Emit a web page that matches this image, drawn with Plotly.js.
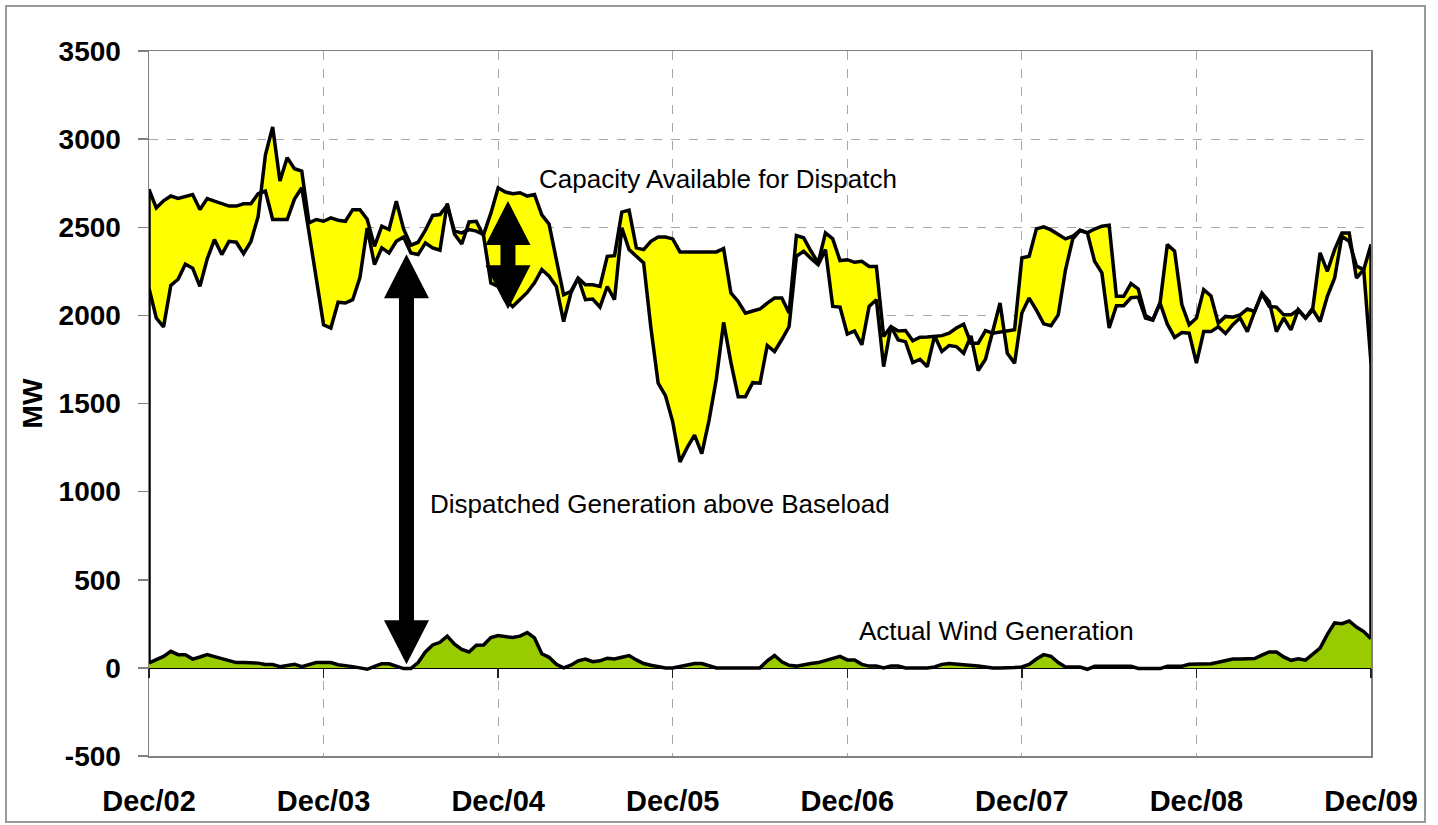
<!DOCTYPE html>
<html><head><meta charset="utf-8">
<script src="https://cdn.plot.ly/plotly-3.0.1.min.js"></script>
<style>html,body{margin:0;padding:0;background:#fff}#chart{width:1438px;height:825px}</style>
</head><body><div id="chart"></div>
<script>
// Semi-monthly observations, Dec 2002 .. Dec 2009 (169 points)
const yearLabels = ["Dec/02","Dec/03","Dec/04","Dec/05","Dec/06","Dec/07","Dec/08","Dec/09"];
const yearTickIndex = [0,24,48,72,96,120,144,168];
const yTicks = [-500,0,500,1000,1500,2000,2500,3000,3500];
const yTickLabels = ["-500","0","500","1000","1500","2000","2500","3000","3500"];

// first boundary line of the yellow band (MW)
const lineA = [2715,2610,2650,2677,2663,2673,2686,2601,2663,2648,
2633,2620,2620,2633,2633,2690,2705,2544,2544,2544,
2660,2724,2470,2200,1946,1928,2075,2070,2089,2215,
2495,2288,2383,2354,2420,2445,2354,2345,2411,2383,
2370,2635,2460,2405,2530,2534,2450,2184,2164,2085,
2050,2090,2130,2185,2260,2222,2164,1965,2127,2212,
2089,2093,2047,2164,2089,2497,2373,2335,2298,1930,
1615,1545,1396,1169,1251,1321,1215,1406,1640,1960,
1733,1539,1539,1618,1615,1829,1795,1863,1937,2335,
2364,2323,2288,2373,2051,2047,1894,1912,1833,2051,
2089,1709,1937,1861,1851,1732,1751,1709,1884,1795,
1829,1823,1785,1884,1687,1751,1918,2070,1785,1729,
2013,2098,2030,1952,1941,2003,2259,2434,2483,2468,
2307,2241,1928,2055,2055,2100,2104,1985,1973,2070,
1950,1875,1903,1899,1729,1908,1908,1935,1897,1947,
1985,1908,2022,2127,2079,1908,1985,1918,2032,1985,
2032,1965,2108,2212,2449,2420,2280,2259,1729];

// second boundary line of the yellow band (MW)
const lineB = [2155,1985,1935,2170,2205,2290,2268,2165,2320,2430,
2345,2420,2415,2350,2418,2560,2910,3069,2762,2895,
2832,2819,2525,2544,2534,2553,2540,2534,2600,2600,
2545,2392,2506,2487,2648,2490,2398,2415,2483,2567,
2572,2625,2478,2468,2487,2478,2459,2580,2724,2700,
2690,2696,2677,2686,2570,2518,2317,2117,2136,2212,
2174,2174,2164,2335,2339,2586,2597,2383,2373,2420,
2445,2445,2434,2360,2360,2360,2360,2360,2360,2379,
2127,2079,2013,2025,2036,2070,2098,2098,2013,2453,
2440,2365,2298,2468,2434,2311,2316,2301,2307,2278,
2278,1880,1937,1912,1914,1856,1876,1878,1880,1885,
1899,1928,1950,1842,1842,1914,1899,1905,1908,1918,
2326,2335,2491,2502,2485,2460,2434,2449,2483,2468,
2490,2506,2512,2108,2108,2180,2150,2000,1975,2070,
2402,2364,2060,1947,1985,2146,2110,1956,1994,1990,
2003,2036,2022,2123,2051,2047,2003,2003,2032,1985,
2042,2355,2250,2373,2468,2468,2212,2259,2402];

// actual wind generation (MW)
const windGeneration = [28,45,65,94,75,75,50,62,75,64,
53,42,30,30,30,27,19,19,7,12,
20,7,18,30,30,30,18,10,7,0,
-8,8,24,23,9,-4,-4,30,90,130,
145,180,135,105,90,128,130,172,183,178,
172,180,200,170,80,60,20,0,15,40,
50,35,40,55,50,60,70,45,25,15,
5,0,0,10,20,25,25,15,0,0,
0,0,0,0,0,40,70,35,15,10,
20,25,30,40,50,65,45,45,20,10,
10,0,10,10,0,0,0,0,5,20,
25,20,20,10,10,5,0,0,0,2,
5,20,50,75,66,30,5,5,5,-8,
9,9,9,9,9,9,-3,-4,-4,-4,
9,9,9,20,21,22,24,32,43,50,
51,52,53,72,90,90,62,43,52,44,
81,112,190,255,251,266,232,206,166];

const labelCapacity = "Capacity Available for Dispatch";
const labelDispatched = "Dispatched Generation above Baseload";
const labelWind = "Actual Wind Generation";

const FONT = "Liberation Sans, Arial, sans-serif";
const W = 1438, H = 825;
const M = {l:149, r:67, t:51, b:69};
const plotW = W - M.l - M.r, plotH = H - M.t - M.b;
const nLast = lineA.length - 1;
const yMin = -500, yMax = 3500;

function arrowPath(xc, yTop, yBot, headPx, headHalfPx, shaftHalfPx){
  const kx = nLast/plotW, ky = (yMax-yMin)/plotH;
  const hh = headPx*ky, hw = headHalfPx*kx, sw = shaftHalfPx*kx;
  const p = [[xc,yTop],[xc+hw,yTop-hh],[xc+sw,yTop-hh],[xc+sw,yBot+hh],[xc+hw,yBot+hh],
             [xc,yBot],[xc-hw,yBot+hh],[xc-sw,yBot+hh],[xc-sw,yTop-hh],[xc-hw,yTop-hh]];
  return 'M' + p.map(q=>q[0]+','+q[1]).join(' L') + ' Z';
}

const blackLine = {color:'#000', width:3.5};
const traces = [
  // wind area (green) from zero
  {y: windGeneration, x0:0, dx:1, type:'scatter', mode:'lines', line:blackLine, fill:'tozeroy', fillcolor:'#99CC00', hoverinfo:'skip'},
  // white (unfilled-looking) stacked area between wind and line A
  {y: lineA, x0:0, dx:1, type:'scatter', mode:'lines', line:blackLine, fill:'tonexty', fillcolor:'#FFFFFF', hoverinfo:'skip'},
  // yellow band between line A and line B
  {y: lineB, x0:0, dx:1, type:'scatter', mode:'lines', line:blackLine, fill:'tonexty', fillcolor:'#FFFF00', hoverinfo:'skip'},
  {x:[0,0], y:[lineA[0], windGeneration[0]], type:'scatter', mode:'lines', line:blackLine, hoverinfo:'skip'},
  {x:[nLast,nLast], y:[Math.max(lineA[nLast],lineB[nLast]), windGeneration[nLast]], type:'scatter', mode:'lines', line:blackLine, hoverinfo:'skip'},
  {x:[0], y:[0], xaxis:'x2', type:'scatter', mode:'none', hoverinfo:'skip'}
];

const layout = {
  width:W, height:H, margin:M, showlegend:false,
  paper_bgcolor:'#fff', plot_bgcolor:'#fff',
  font:{family:FONT, color:'#000'},
  xaxis:{range:[0,nLast], tickvals:yearTickIndex, ticktext:yearLabels, ticks:'',
    showgrid:true, gridcolor:'#a8a8a8', griddash:'dash', gridwidth:1,
    showline:true, mirror:true, linecolor:'#808080', linewidth:1.5, zeroline:false,
    tickfont:{family:FONT, size:29, weight:'bold', color:'#000'}, ticklabelstandoff:19},
  xaxis2:{overlaying:'x', anchor:'free', position:(0-yMin)/(yMax-yMin), range:[0,nLast],
    tickvals:yearTickIndex, showticklabels:false, ticks:'outside', ticklen:9, tickwidth:1.5, tickcolor:'#222',
    showline:true, linecolor:'#000', linewidth:1.5, showgrid:false, zeroline:false},
  yaxis:{range:[yMin,yMax], tickvals:yTicks, ticktext:yTickLabels, ticks:'outside', ticklen:10, tickwidth:1.5, tickcolor:'#808080',
    showgrid:true, gridcolor:'#a8a8a8', griddash:'dash', gridwidth:1,
    showline:true, mirror:true, linecolor:'#808080', linewidth:1.5, zeroline:false,
    tickfont:{family:FONT, size:28, weight:'bold', color:'#000'}, ticklabelstandoff:11,
    title:{text:'MW', font:{family:FONT, size:28, weight:'bold', color:'#000'}, standoff:8}},
  shapes:[
    {type:'rect', xref:'paper', yref:'paper', x0:(6-M.l)/plotW, x1:(1425-M.l)/plotW,
     y0:(H-M.b-822)/plotH, y1:(H-M.b-6)/plotH, line:{color:'#9a9a9a', width:2}, layer:'below'},
    {type:'path', xref:'x', yref:'y', path:arrowPath(35.4, 2347, 20, 44, 22.5, 7.5), fillcolor:'#000', line:{width:0}, layer:'above'},
    {type:'path', xref:'x', yref:'y', path:arrowPath(49.35, 2649, 2035, 44, 22.5, 7.5), fillcolor:'#000', line:{width:0}, layer:'above'}
  ],
  annotations:[
    {x:53.4, y:2772, xref:'x', yref:'y', text:labelCapacity, showarrow:false, xanchor:'left', yanchor:'middle', font:{family:FONT, size:26, color:'#000'}},
    {x:38.3, y:932, xref:'x', yref:'y', text:labelDispatched, showarrow:false, xanchor:'left', yanchor:'middle', font:{family:FONT, size:26, color:'#000'}},
    {x:97.3, y:208, xref:'x', yref:'y', text:labelWind, showarrow:false, xanchor:'left', yanchor:'middle', font:{family:FONT, size:26, color:'#000'}}
  ]
};

Plotly.newPlot('chart', traces, layout, {staticPlot:true, displayModeBar:false});
</script></body></html>
